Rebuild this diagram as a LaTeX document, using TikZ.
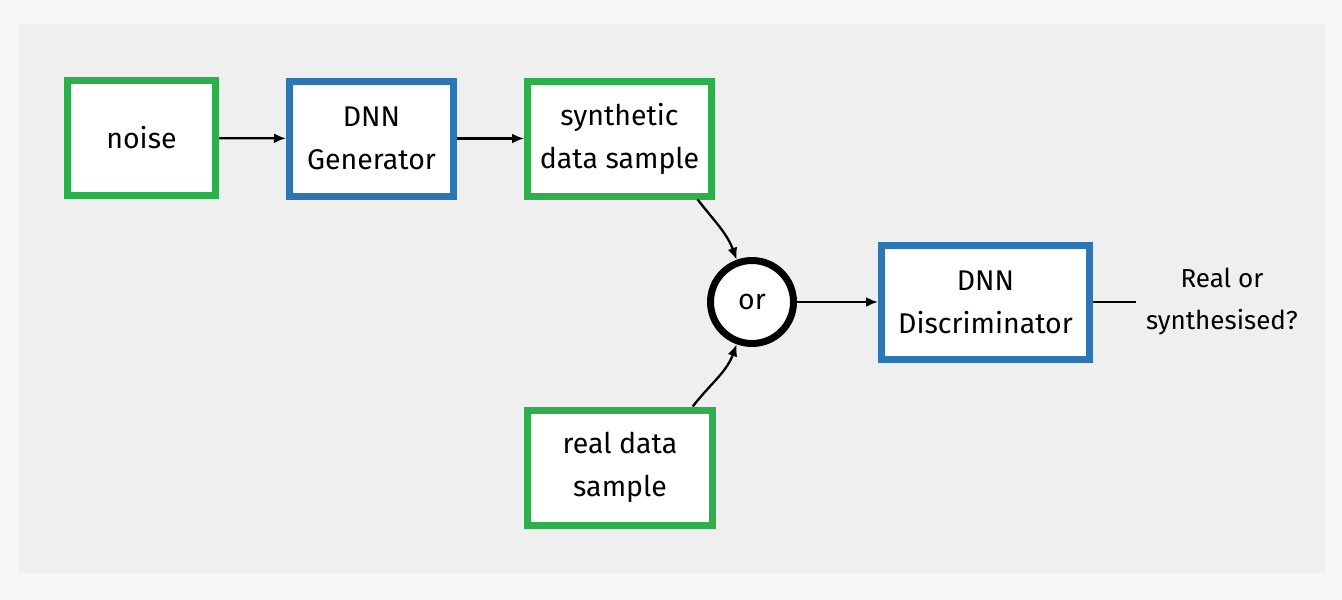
\documentclass[tikz,border=0pt]{standalone}
\usepackage{fontspec}
\setmainfont{Fira Sans}
\usetikzlibrary{arrows.meta}
\definecolor{bgout}{HTML}{F7F7F7}
\definecolor{panel}{HTML}{EFEFEF}
\definecolor{gbox}{HTML}{2DB04C}
\definecolor{bbox}{HTML}{2E75B6}
\tikzset{
  txt/.style={font=\fontsize{28.5}{43}\selectfont},
  base/.style={draw, line width=7pt, fill=white, align=center, inner sep=0pt, txt},
  greenbox/.style={base, draw=gbox, minimum width=148pt, minimum height=115pt},
  bluebox/.style={base, draw=bbox},
  conn/.style={line width=2.3pt, -{Latex[length=12pt,width=10pt]}},
  plain/.style={line width=2.3pt},
}
\begin{document}
\begin{tikzpicture}[x=1pt,y=-1pt]
\useasboundingbox (0,0) rectangle (1342,600);
\fill[bgout] (0,0) rectangle (1342,600);
\fill[panel] (19,24) rectangle (1325,573);

\node[greenbox] (noise) at (141.5,138) {noise};
\node[bluebox, minimum width=164pt, minimum height=115pt] (gen) at (371.5,138.5) {DNN\\Generator};
\node[greenbox, minimum width=184pt] (synth) at (619.5,138.5) {synthetic\\data sample};
\node[greenbox, minimum width=185pt] (real) at (620,467.5) {real data\\sample};
\node[base, circle, draw=black, minimum size=83pt] (or) at (752,302) {or};
\node[bluebox, minimum width=208pt, minimum height=114pt] (disc) at (985.5,302) {DNN\\Discriminator};
\node[align=center, inner sep=0pt, font=\fontsize{26}{42}\selectfont] (out) at (1222,302) {Real or\\synthesised?};
\coordinate (outend) at (1136,302);

\draw[conn] (noise) -- (gen);
\draw[conn] (gen) -- (synth);
\draw[conn] (synth.-38) to[out=-52, in=110] (or);
\draw[conn] (real.40) to[out=52, in=-110] (or);
\draw[conn] (or) -- (disc);
\draw[plain] (disc) -- (outend);
\end{tikzpicture}
\end{document}
